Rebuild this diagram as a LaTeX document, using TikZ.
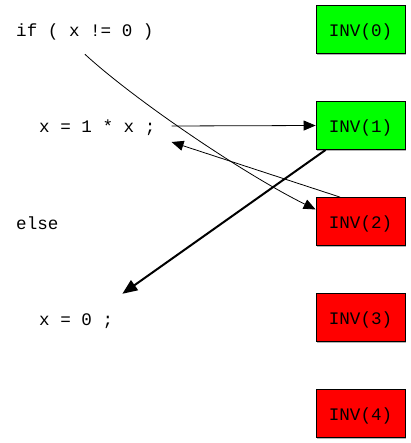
\documentclass[tikz,border=0pt]{standalone}
\usepackage{fontspec}
\newfontfamily\codefont{Liberation Mono}
\usetikzlibrary{arrows.meta, shadows}

\begin{document}
\begin{tikzpicture}[
    x=1pt, y=-1pt,
    code/.style={font=\codefont\fontsize{17.6}{20}\selectfont, anchor=west, minimum height=48pt, inner xsep=16pt, inner ysep=0pt, text height=17pt, text depth=3pt},
    inv/.style={rectangle, draw=black, line width=0.8pt, minimum width=89pt, minimum height=48pt, inner sep=0pt, font=\codefont\fontsize{17.6}{20}\selectfont, text height=17pt, text depth=3pt, drop shadow={shadow xshift=1.3pt, shadow yshift=-1.3pt, fill=gray!60, opacity=1}},
    good/.style={inv, fill=green},
    bad/.style={inv, fill=red},
    edge/.style={-{Triangle[length=12pt, width=10pt]}, line width=0.8pt},
    heavy/.style={-{Triangle[length=15pt, width=12pt]}, line width=2pt}
]
    \useasboundingbox (0,0) rectangle (410,443);

    % Program lines
    \node[code] (cond) at (0,30) {if ( x != 0 )};
    \node[code] (assign1) at (23,126) {x = 1 * x ;};
    \node[code] (other) at (0,222) {else};
    \node[code] (assign0) at (23,318) {x = 0 ;};

    % Invariant boxes
    \foreach \i/\c in {0/good,1/good,2/bad,3/bad,4/bad} {
        \node[\c] (inv\i) at (360.5, 29.5+96*\i) {INV(\i)};
    }

    % Edges
    \draw[edge] (cond.south) .. controls +(50,46) and +(-71,-35) .. (inv2.165);
    \draw[edge] (assign1.east) -- (inv1.west);
    \draw[edge] (inv2.130) -- ([yshift=-16pt]assign1.east);
    \draw[heavy] (inv1.215) -- ([xshift=-7pt]assign0.north east);
\end{tikzpicture}
\end{document}
